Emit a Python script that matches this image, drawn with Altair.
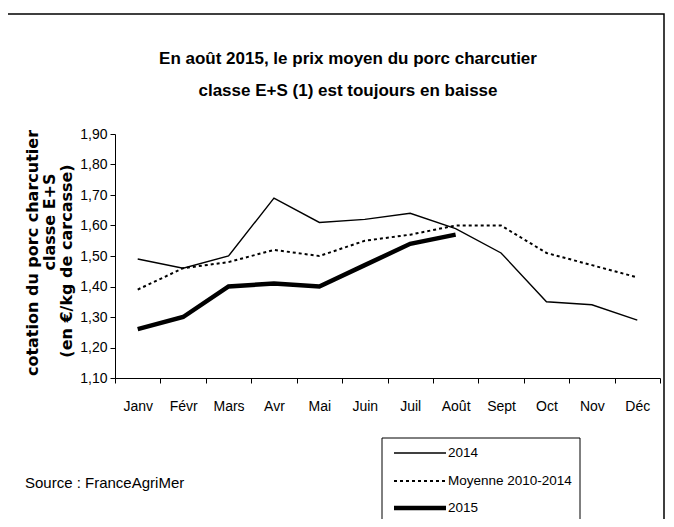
import altair as alt
import pandas as pd

months = ["Janv", "Févr", "Mars", "Avr", "Mai", "Juin", "Juil", "Août", "Sept", "Oct", "Nov", "Déc"]
series_names = ["2014", "Moyenne 2010-2014", "2015"]
v2014 = [1.49, 1.46, 1.50, 1.69, 1.61, 1.62, 1.64, 1.59, 1.51, 1.35, 1.34, 1.29]
vmoy = [1.39, 1.46, 1.48, 1.52, 1.50, 1.55, 1.57, 1.60, 1.60, 1.51, 1.47, 1.43]
v2015 = [1.26, 1.30, 1.40, 1.41, 1.40, 1.47, 1.54, 1.57]
y_ticks = [1.10, 1.20, 1.30, 1.40, 1.50, 1.60, 1.70, 1.80, 1.90]

title_lines = ["En août 2015, le prix moyen du porc charcutier", "classe E+S (1) est toujours en baisse"]
ytitle_lines = ["cotation du porc charcutier", "classe E+S", "(en €/kg de carcasse)"]
source_text = "Source : FranceAgriMer"

FONT = "Liberation Sans, Arial, sans-serif"

rows = []
for name, vals in zip(series_names, [v2014, vmoy, v2015]):
    for m, v in zip(months, vals):
        rows.append({"month": m, "value": v, "series": name})
df = pd.DataFrame(rows)

W, H = 545, 244

x_enc = alt.X(
    "month:N",
    sort=months,
    bandPosition=0.5,
    scale=alt.Scale(type="band", domain=months, paddingInner=0, paddingOuter=0),
    axis=alt.Axis(
        title=None, labelAngle=0, tickBand="extent", tickSize=5, tickColor="black",
        domainColor="black", labelFont=FONT, labelFontSize=14, labelColor="black",
        labelPadding=16, grid=False,
    ),
)
y_enc = alt.Y(
    "value:Q",
    scale=alt.Scale(domain=[1.1, 1.9], nice=False, zero=False),
    axis=alt.Axis(
        title=None, values=y_ticks, tickSize=5, tickColor="black", domainColor="black",
        labelFont=FONT, labelFontSize=14, labelColor="black", labelPadding=3, grid=False,
        labelExpr="replace(format(datum.value, '.2f'), '.', ',')",
    ),
)

base = alt.Chart(df)
styles = {
    "2014": dict(strokeWidth=1.4),
    "Moyenne 2010-2014": dict(strokeWidth=2, strokeDash=[3, 3]),
    "2015": dict(strokeWidth=4.5),
}
line_layers = [
    base.transform_filter(alt.datum.series == s)
    .mark_line(color="black", **styles[s])
    .encode(x=x_enc, y=y_enc)
    for s in series_names
]

# outer frame
frame = alt.Chart(pd.DataFrame({"a": [0]})).mark_rect(
    fill=None, stroke="black", strokeWidth=1.5
).encode(x=alt.value(-108), x2=alt.value(549), y=alt.value(-120), y2=alt.value(420))

# title
title_layers = [
    alt.Chart(pd.DataFrame({"t": [t]})).mark_text(
        font=FONT, fontSize=17, fontWeight="bold", color="black", align="center", baseline="middle"
    ).encode(x=alt.value(233), y=alt.value(yy), text="t:N")
    for t, yy in zip(title_lines, [-75, -43])
]

# y axis title (three rotated lines)
ypos = [(-82, 119), (-65, 88), (-48, 127)]
ytitle_layers = [
    alt.Chart(pd.DataFrame({"t": [t]})).mark_text(
        font="DejaVu Sans", fontSize=16, fontWeight="bold", color="black", angle=270,
        align="center", baseline="middle"
    ).encode(x=alt.value(px), y=alt.value(py), text="t:N")
    for t, (px, py) in zip(ytitle_lines, ypos)
]

source = alt.Chart(pd.DataFrame({"t": [source_text]})).mark_text(
    font=FONT, fontSize=15, color="black", align="left", baseline="middle"
).encode(x=alt.value(-90), y=alt.value(349), text="t:N")

# legend box
legend_box = alt.Chart(pd.DataFrame({"a": [0]})).mark_rect(
    fill="white", stroke="black", strokeWidth=1
).encode(x=alt.value(267), x2=alt.value(465), y=alt.value(304), y2=alt.value(420))

legend_layers = []
for s, ly in zip(series_names, [319, 347, 374]):
    legend_layers.append(
        alt.Chart(pd.DataFrame({"t": [s]})).mark_rule(color="black", **styles[s])
        .encode(x=alt.value(279), x2=alt.value(331), y=alt.value(ly))
    )
    legend_layers.append(
        alt.Chart(pd.DataFrame({"t": [s]})).mark_text(
            font=FONT, fontSize=13.5, color="black", align="left", baseline="middle"
        ).encode(x=alt.value(333), y=alt.value(ly), text="t:N")
    )

chart = alt.layer(
    frame, *line_layers, *title_layers, *ytitle_layers, source, legend_box, *legend_layers
).properties(
    width=W, height=H,
    autosize=alt.AutoSizeParams(type="none"),
    padding={"left": 107, "top": 126, "right": 6, "bottom": 141},
    background="white",
).configure_view(stroke=None)

chart.save("out.html", embed_options={"renderer": "svg", "actions": False})
